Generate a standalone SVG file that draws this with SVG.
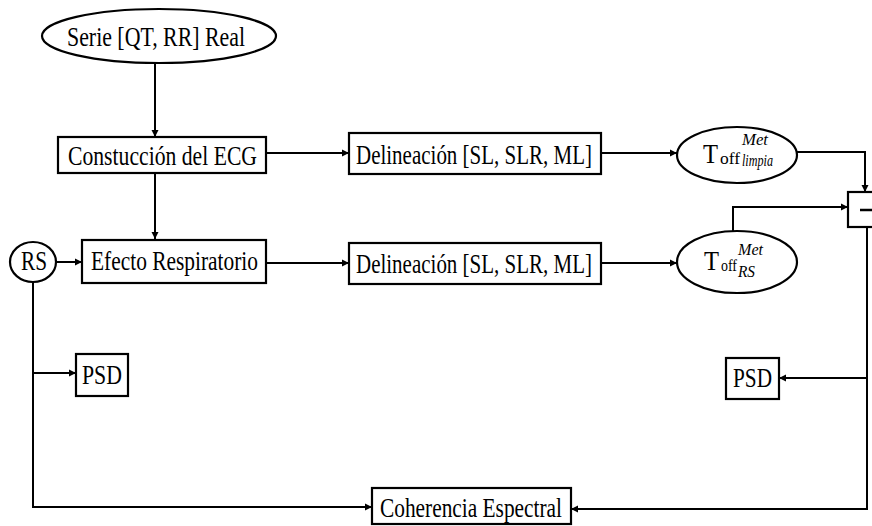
<svg xmlns="http://www.w3.org/2000/svg" width="872" height="526" viewBox="0 0 872 526">
<style>
.box{fill:#fff;stroke:#000;stroke-width:2.2}
.t{font-family:"Liberation Serif","Times New Roman","DejaVu Serif",serif;font-size:28px;fill:#000}
.s{font-family:"Liberation Serif","Times New Roman","DejaVu Serif",serif;font-size:17px;fill:#000}
.i{font-family:"Liberation Serif","Times New Roman","DejaVu Serif",serif;font-size:16px;font-style:italic;fill:#000}
.c{fill:none;stroke:#000;stroke-width:2}
</style>
<defs>
<marker id="ar" markerUnits="userSpaceOnUse" markerWidth="8" markerHeight="8" refX="7" refY="4" orient="auto">
<path d="M0,0.5 L7,4 L0,7.5 z" fill="#000"/>
</marker>
</defs>
<g id="connectors">
<path class="c" d="M155,63 V137" marker-end="url(#ar)"/>
<path class="c" d="M155,173 V239" marker-end="url(#ar)"/>
<path class="c" d="M266,153 H349" marker-end="url(#ar)"/>
<path class="c" d="M266,263 H349" marker-end="url(#ar)"/>
<path class="c" d="M601,153 H677" marker-end="url(#ar)"/>
<path class="c" d="M601,263 H677" marker-end="url(#ar)"/>
<path class="c" d="M797,152 H865 V192" marker-end="url(#ar)"/>
<path class="c" d="M733,232 V207 H848" marker-end="url(#ar)"/>
<path class="c" d="M57,262 H82" marker-end="url(#ar)"/>
<path class="c" d="M33,282 V507 H372" marker-end="url(#ar)"/>
<path class="c" d="M33,373 H76" marker-end="url(#ar)"/>
<path class="c" d="M867,227 V509 H571" marker-end="url(#ar)"/>
<path class="c" d="M867,378 H779" marker-end="url(#ar)"/>
</g>
<g id="serie">
<ellipse class="box" cx="159" cy="36" rx="117" ry="27"/>
<text class="t" x="67" y="46" textLength="178" lengthAdjust="spacingAndGlyphs">Serie [QT, RR] Real</text>
</g>
<g id="construccion">
<rect class="box" x="58" y="137" width="208" height="36"/>
<text class="t" x="68" y="165" textLength="189" lengthAdjust="spacingAndGlyphs">Constucción del ECG</text>
</g>
<g id="efecto">
<rect class="box" x="82" y="240" width="184" height="43"/>
<text class="t" x="91" y="270" textLength="167" lengthAdjust="spacingAndGlyphs">Efecto Respiratorio</text>
</g>
<g id="rs">
<ellipse class="box" cx="33" cy="262" rx="23" ry="20"/>
<text class="t" x="21" y="270" textLength="26" lengthAdjust="spacingAndGlyphs">RS</text>
</g>
<g id="psd1">
<rect class="box" x="76" y="354" width="52" height="42"/>
<text class="t" x="82" y="384" textLength="40" lengthAdjust="spacingAndGlyphs">PSD</text>
</g>
<g id="delineacion1">
<rect class="box" x="349" y="133" width="252" height="41"/>
<text class="t" x="356" y="164" textLength="236" lengthAdjust="spacingAndGlyphs">Delineación [SL, SLR, ML]</text>
</g>
<g id="delineacion2">
<rect class="box" x="349" y="243" width="252" height="41"/>
<text class="t" x="356" y="273" textLength="236" lengthAdjust="spacingAndGlyphs">Delineación [SL, SLR, ML]</text>
</g>
<g id="toff-limpia">
<ellipse class="box" cx="737" cy="155" rx="60" ry="28"/>
<text class="t" x="703" y="163" font-size="30" textLength="15" lengthAdjust="spacingAndGlyphs">T</text>
<text class="s" x="720" y="164" textLength="20" lengthAdjust="spacingAndGlyphs">off</text>
<text class="i" x="742" y="145" textLength="26" lengthAdjust="spacingAndGlyphs">Met</text>
<text class="i" x="742" y="166" textLength="31" lengthAdjust="spacingAndGlyphs">limpia</text>
</g>
<g id="toff-rs">
<ellipse class="box" cx="737" cy="262" rx="60" ry="31"/>
<text class="t" x="704" y="270" font-size="30" textLength="15" lengthAdjust="spacingAndGlyphs">T</text>
<text class="s" x="721" y="271" textLength="16" lengthAdjust="spacingAndGlyphs">off</text>
<text class="i" x="738" y="255" textLength="25" lengthAdjust="spacingAndGlyphs">Met</text>
<text class="i" x="738" y="277" textLength="17" lengthAdjust="spacingAndGlyphs">RS</text>
</g>
<g id="resta">
<rect class="box" x="848" y="192" width="30" height="35"/>
<line x1="860" y1="210" x2="872" y2="210" stroke="#000" stroke-width="2.5"/>
</g>
<g id="psd2">
<rect class="box" x="726" y="358" width="53" height="41"/>
<text class="t" x="733" y="387" textLength="39" lengthAdjust="spacingAndGlyphs">PSD</text>
</g>
<g id="coherencia">
<rect class="box" x="372" y="488" width="199" height="36"/>
<text class="t" x="380" y="517" textLength="182" lengthAdjust="spacingAndGlyphs">Coherencia Espectral</text>
</g>
</svg>
